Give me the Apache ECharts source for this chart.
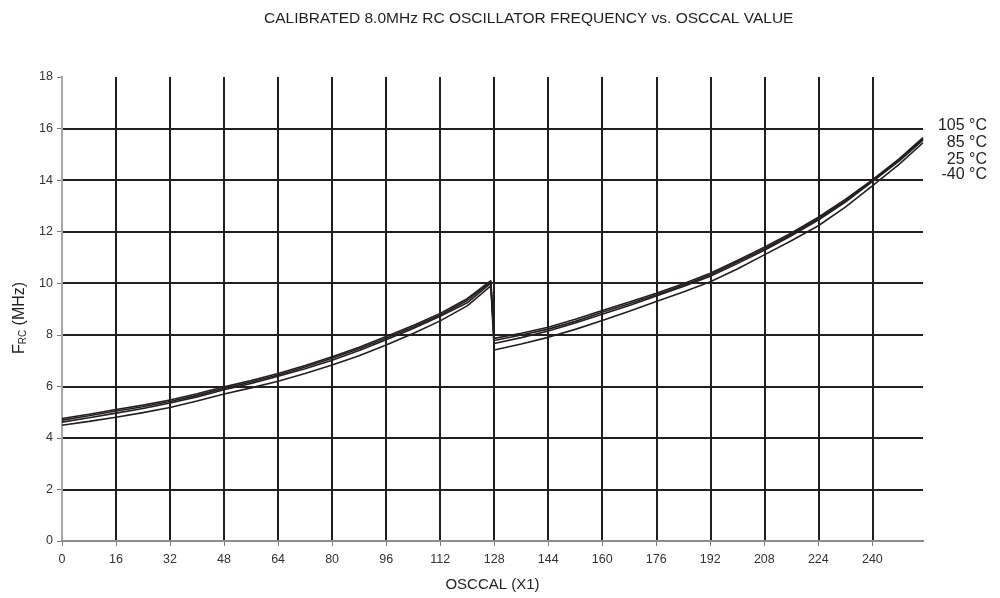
<!DOCTYPE html>
<html>
<head>
<meta charset="utf-8">
<script src="https://cdn.jsdelivr.net/npm/echarts@6/dist/echarts.min.js"></script>
<style>html,body{margin:0;padding:0;background:#fff}#c{width:1000px;height:598px}</style>
</head>
<body>
<div id="c"></div>
<script>
var osccal = [0,8,16,24,32,40,48,56,64,72,80,88,96,104,112,120,127,128,136,144,152,160,168,176,184,192,200,208,216,224,232,240,248,255];
var f105 = [4.75,4.92,5.10,5.27,5.47,5.71,5.98,6.23,6.50,6.81,7.15,7.52,7.93,8.36,8.83,9.40,10.10,7.86,8.06,8.29,8.60,8.94,9.27,9.61,9.98,10.39,10.88,11.40,11.95,12.56,13.25,14.01,14.83,15.65];
var f85  = [4.69,4.86,5.04,5.21,5.41,5.65,5.92,6.17,6.44,6.75,7.09,7.46,7.87,8.30,8.77,9.33,10.05,7.78,7.99,8.22,8.52,8.87,9.20,9.55,9.92,10.33,10.82,11.34,11.89,12.50,13.19,13.97,14.80,15.60];
var f25  = [4.61,4.78,4.96,5.14,5.35,5.59,5.87,6.11,6.39,6.68,7.01,7.39,7.81,8.24,8.72,9.24,10.00,7.66,7.89,8.15,8.46,8.80,9.14,9.50,9.87,10.27,10.76,11.28,11.84,12.45,13.15,13.94,14.75,15.55];
var fm40 = [4.49,4.64,4.80,4.98,5.18,5.43,5.70,5.94,6.20,6.50,6.83,7.19,7.60,8.05,8.54,9.12,9.90,7.41,7.64,7.90,8.21,8.55,8.91,9.29,9.66,10.06,10.55,11.10,11.65,12.23,12.95,13.78,14.62,15.45];
var seriesNames = ['105 °C','85 °C','25 °C','-40 °C'];
var seriesData = [f105, f85, f25, fm40];
var title = 'CALIBRATED 8.0MHz RC OSCILLATOR FREQUENCY vs. OSCCAL VALUE';

var ink = '#231f20';
var font = 'Liberation Sans, Arial, sans-serif';

function pairs(ys){ return osccal.map(function(x,i){ return [x, ys[i]]; }); }

var chart = echarts.init(document.getElementById('c'), null, {renderer:'canvas'});
var labelTops = [127, 144, 161, 176];
chart.setOption({
  animation: false,
  backgroundColor: '#fff',
  title: {
    text: title, left: 259, top: 6,
    textStyle: {fontFamily: font, fontSize: 15.5, fontWeight: 'normal', color: ink}
  },
  grid: {left: 62, right: 77, top: 77, bottom: 57, containLabel: false},
  xAxis: [{
    type: 'value', min: 0, max: 255, interval: 16,
    name: 'OSCCAL (X1)', nameLocation: 'middle', nameGap: 36,
    nameTextStyle: {fontFamily: font, fontSize: 15, color: ink},
    axisLine: {show: true, lineStyle: {color: '#7a7a7a', width: 2}},
    axisTick: {show: true, length: 5, lineStyle: {color: '#7a7a7a', width: 1}},
    axisLabel: {fontFamily: font, fontSize: 12.5, color: '#333', margin: 12, showMaxLabel: false,
      formatter: function(v){ return v > 250 ? '' : String(v); }},
    splitLine: {show: true, showMinLine: false, showMaxLine: false, lineStyle: {color: ink, width: 2}}
  }, {
    type: 'value', min: 0, max: 255, position: 'top', z: 3,
    axisLine: {show: true, lineStyle: {color: '#8c8c8c', width: 2}},
    axisTick: {show: false}, axisLabel: {show: false}, splitLine: {show: false}
  }],
  yAxis: [{
    type: 'value', min: 0, max: 18, interval: 2,
    name: '{a|F}{s|RC}{a| (MHz)}', nameLocation: 'middle', nameGap: 34, nameRotate: 90,
    nameTextStyle: {fontFamily: font, fontSize: 16, color: ink, padding: [0, 18, 0, 0],
      rich: {a: {fontFamily: font, fontSize: 16, color: ink}, s: {fontFamily: font, fontSize: 10, color: ink, verticalAlign: 'bottom', padding: [7,0,0,0]}}},
    axisLine: {show: true, lineStyle: {color: '#4d4d4d', width: 2}},
    axisTick: {show: true, length: 5, lineStyle: {color: '#7a7a7a', width: 1}},
    axisLabel: {fontFamily: font, fontSize: 12.5, color: '#333', margin: 9},
    splitLine: {show: true, showMinLine: false, showMaxLine: false, lineStyle: {color: ink, width: 2}}
  }, {
    type: 'value', min: 0, max: 18, position: 'right', z: 3,
    axisLine: {show: true, lineStyle: {color: '#a6a6a6', width: 2}},
    axisTick: {show: false}, axisLabel: {show: false}, splitLine: {show: false}
  }],
  series: seriesData.map(function(d, i){
    return {
      type: 'line', name: seriesNames[i], data: pairs(d), showSymbol: false, symbol: 'none',
      xAxisIndex: 0, yAxisIndex: 0,
      lineStyle: {color: ink, width: 1.6}, z: 4
    };
  }),
  graphic: seriesNames.map(function(n, i){
    return {type: 'text', right: 13, top: labelTops[i] - 9,
      style: {text: n, font: '16px ' + font, fill: ink}};
  })
});
</script>
</body>
</html>
